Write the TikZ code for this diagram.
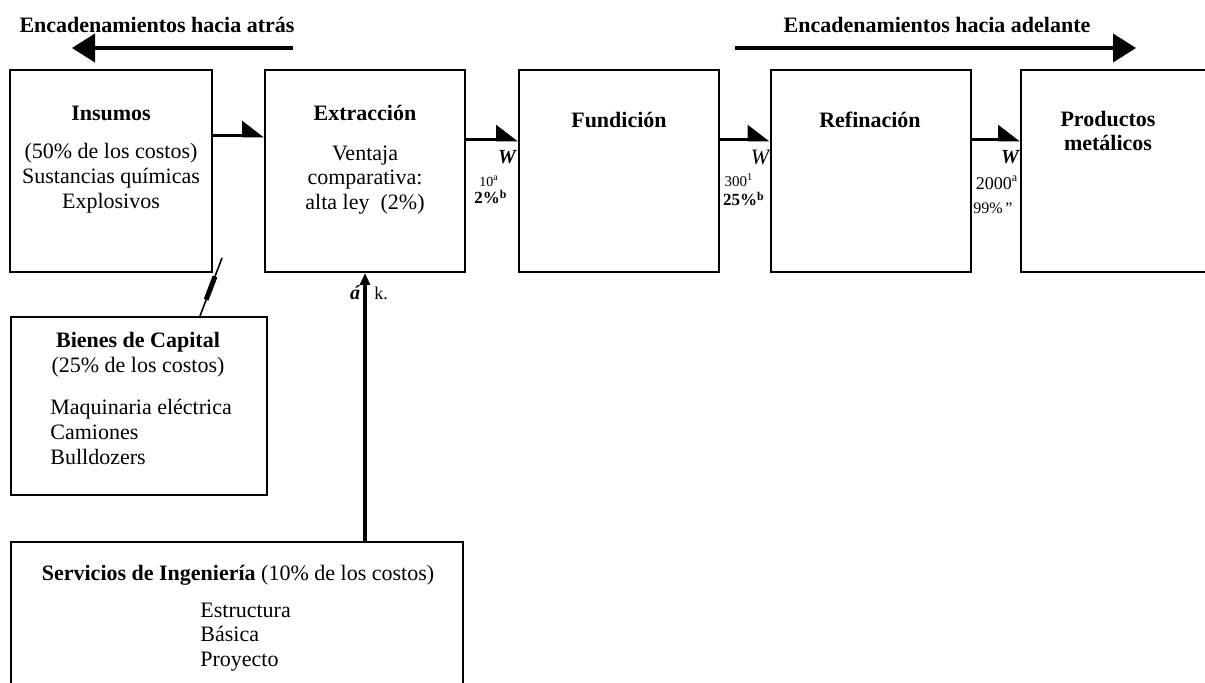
\documentclass[tikz,border=0pt]{standalone}
\usepackage{fontspec}
\setmainfont{Liberation Serif}
\usetikzlibrary{arrows.meta, positioning, calc}

\begin{document}
\begin{tikzpicture}[x=0.5pt, y=-0.5pt, font=\fontsize{11}{12.4}\selectfont,
        etapa/.style={rectangle, draw, line width=1pt, minimum width=100pt, minimum height=101pt, inner sep=0pt},
        caja/.style={rectangle, draw, line width=1pt, minimum height=89pt, inner sep=0pt},
        txt/.style={align=center, inner sep=0pt},
        lista/.style={align=left, inner sep=0pt, anchor=west},
        enlace/.style={line width=2pt, -{Triangle[length=11.5pt, width=14pt]}},
        paso/.style={line width=1.5pt, -{Triangle[harpoon, length=10pt, width=15pt]}},
        subida/.style={line width=2.3pt, -{Triangle[length=6pt, width=5pt]}},
        dato/.style={inner sep=0pt, font=\fontsize{8}{9}\selectfont}]
    \useasboundingbox (0,0) rectangle (1205,683);

    \node[etapa, minimum width=101pt] (insumos) at (111,171) {};
    \node[etapa] (extraccion) at (365,171) {};
    \node[etapa] (fundicion) at (619,171) {};
    \node[etapa] (refinacion) at (870.5,171) {};
    \node[etapa] (productos) at (1121,171) {};
    \node[caja, minimum width=128pt] (bienes) at (139,406) {};
    \node[caja, minimum width=226pt] (servicios) at (237,631) {};

    \node[txt] (atras) at (157,25) {\textbf{Encadenamientos hacia atrás}};
    \node[txt] (adelante) at (937,25) {\textbf{Encadenamientos hacia adelante}};
    \coordinate (atrasA) at (293,48);
    \coordinate (atrasB) at (72,48);
    \coordinate (adelanteA) at (735,48);
    \coordinate (adelanteB) at (1136,48);
    \draw[enlace] (atrasA) -- (atrasB);
    \draw[enlace] (adelanteA) -- (adelanteB);

    \node[txt] (insumosT) at (111,113) {\textbf{Insumos}};
    \node[txt] (insumosB) at (111,178) {(50\% de los costos)\\Sustancias químicas\\Explosivos};
    \node[txt] (extraccionT) at (365,113) {\textbf{Extracción}};
    \node[txt] (extraccionB) at (365,180) {Ventaja\\comparativa:\\alta ley~~(2\%)};
    \node[txt] (fundicionT) at (619,120) {\textbf{Fundición}};
    \node[txt] (refinacionT) at (870,120) {\textbf{Refinación}};
    \node[txt] (productosT) at (1108,131) {\textbf{Productos}\\\textbf{metálicos}};

    \draw[paso] ([yshift=17.5pt]insumos.east) -- ([yshift=17.5pt]extraccion.west);
    \draw[paso] ([yshift=15.5pt]extraccion.east) -- ([yshift=15.5pt]fundicion.west);
    \draw[paso] ([yshift=15.5pt]fundicion.east) -- ([yshift=15.5pt]refinacion.west);
    \draw[paso] ([yshift=15.5pt]refinacion.east) -- ([yshift=15.5pt]productos.west);

    \node[txt, font=\fontsize{10}{10}\selectfont\bfseries\itshape] (w1) at (507,157) {W};
    \node[txt, font=\fontsize{11}{11}\selectfont\itshape] (w2) at (760,157) {W};
    \node[txt, font=\fontsize{10}{10}\selectfont\bfseries\itshape] (w3) at (1010,157) {W};
    \node[dato, font=\fontsize{7}{7}\selectfont] (d1) at (489,181) {10\textsuperscript{a}};
    \node[dato, font=\fontsize{8.5}{9}\selectfont\bfseries] (d2) at (491,197) {2\%\textsuperscript{b}};
    \node[dato, font=\fontsize{7.5}{8}\selectfont] (d3) at (739,180) {300\textsuperscript{1}};
    \node[dato, font=\fontsize{8.5}{9}\selectfont\bfseries] (d4) at (744,199) {25\%\textsuperscript{b}};
    \node[dato, font=\fontsize{9}{9}\selectfont] (d5) at (997,183) {2000\textsuperscript{a}};
    \node[dato] (d6) at (993,208) {99\%\,"};

    \node[txt] (bienesT) at (138,355) {\textbf{Bienes de Capital}\\(25\% de los costos)};
    \node[lista] (bienesL) at (50,432) {Maquinaria eléctrica\\Camiones\\Bulldozers};
    \node[txt] (serviciosT) at (238,575) {\textbf{Servicios de Ingeniería} (10\% de los costos)};
    \node[lista] (serviciosL) at (200,637) {Estructura\\Básica\\Proyecto};

    \coordinate (corte) at (222,258);
    \draw[line width=0.8pt] (corte) -- ([xshift=30.5pt]bienes.north);
    \draw[line width=2.5pt] ($(corte)!0.32!([xshift=30.5pt]bienes.north)$) -- ($(corte)!0.72!([xshift=30.5pt]bienes.north)$);

    \draw[subida] (servicios.north -| extraccion.south) -- (extraccion.south);
    \node[txt, font=\bfseries\itshape] (a1) at (355,293) {á};
    \node[txt, font=\fontsize{9}{9}\selectfont] (k1) at (381,293) {k.};
\end{tikzpicture}
\end{document}
